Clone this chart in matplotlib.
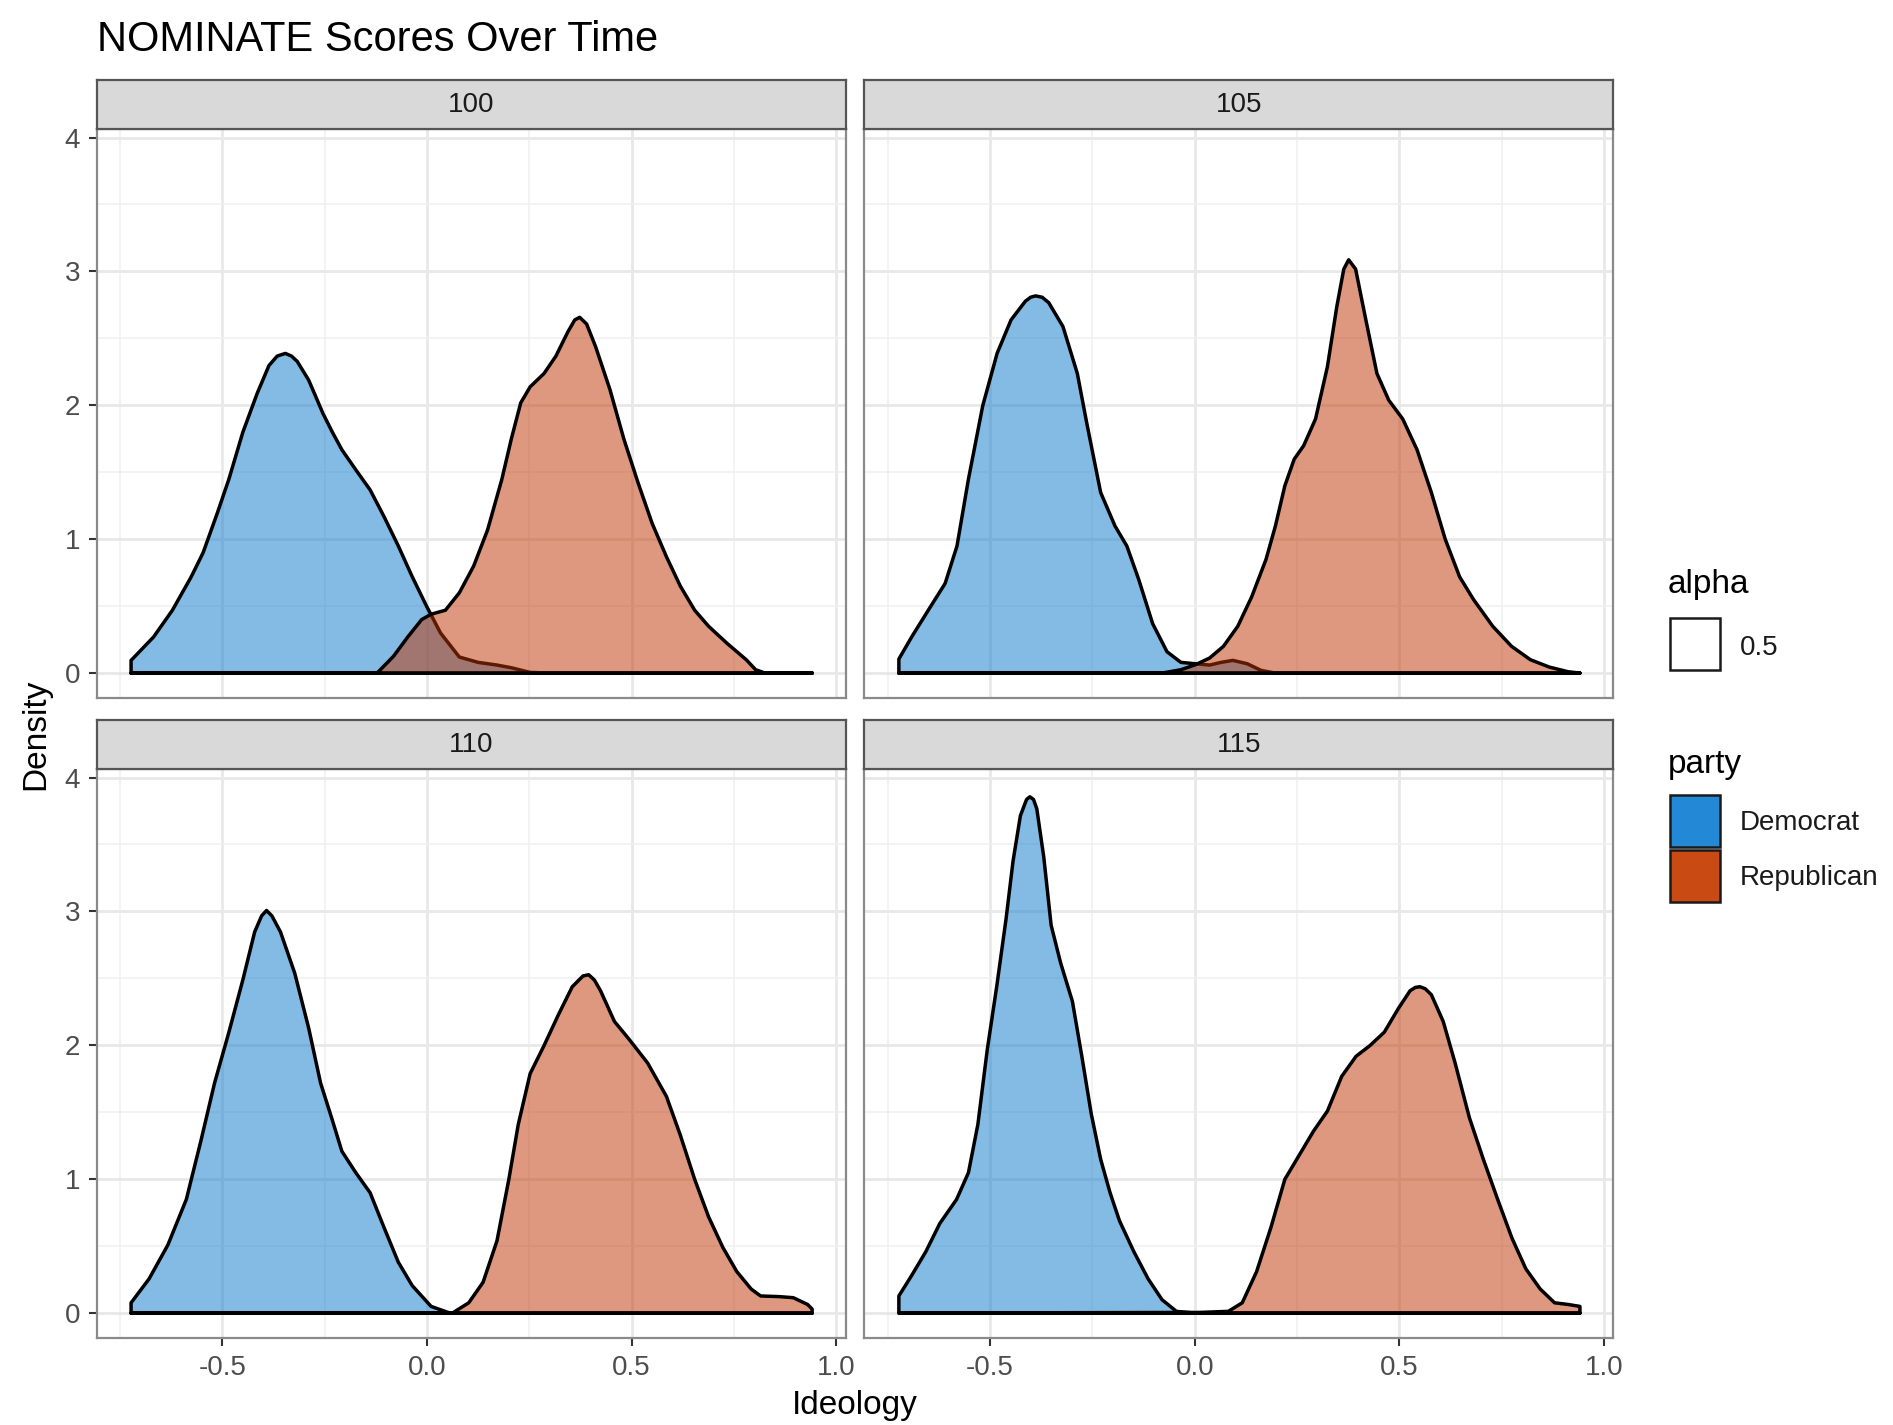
import matplotlib
matplotlib.use("Agg")
import matplotlib.pyplot as plt
from matplotlib.patches import Rectangle
from matplotlib.colors import to_rgba

plt.rcParams['font.family'] = ['Liberation Sans', 'DejaVu Sans']

# ============================
# Data
# ============================
CONGRESSES = ["100", "105", "110", "115"]
PARTIES = ["Democrat", "Republican"]
ALPHA_LABELS = ["0.5"]
X_TICKS = [-0.5, 0.0, 0.5, 1.0]
X_TICK_LABELS = ["-0.5", "0.0", "0.5", "1.0"]
Y_TICKS = [0, 1, 2, 3, 4]

# congress 100
dem_100_x = [-0.724, -0.669, -0.623, -0.577, -0.548, -0.514, -0.485, -0.451, -0.416, -0.387,
             -0.367, -0.347, -0.332, -0.318, -0.290, -0.255, -0.232, -0.209, -0.175, -0.140,
             -0.106, -0.071, -0.037, -0.002, 0.032, 0.078, 0.124, 0.170, 0.205, 0.251,
             0.300, 0.940]
dem_100_y = [0.095, 0.27, 0.47, 0.72, 0.90, 1.19, 1.45, 1.80, 2.09, 2.30,
             2.37, 2.39, 2.37, 2.33, 2.19, 1.94, 1.80, 1.67, 1.52, 1.37,
             1.17, 0.95, 0.72, 0.50, 0.30, 0.12, 0.08, 0.06, 0.04, 0.005,
             0.0, 0.0]
rep_100_x = [-0.724, -0.123, -0.083, -0.048, -0.014, 0.009, 0.044, 0.078, 0.113, 0.147,
             0.182, 0.205, 0.228, 0.251, 0.285, 0.314, 0.343, 0.360, 0.372, 0.389,
             0.411, 0.446, 0.480, 0.515, 0.549, 0.584, 0.618, 0.653, 0.687, 0.733,
             0.779, 0.802, 0.825, 0.940]
rep_100_y = [0.0, 0.0, 0.125, 0.27, 0.40, 0.44, 0.47, 0.60, 0.80, 1.07,
             1.45, 1.75, 2.02, 2.14, 2.24, 2.37, 2.55, 2.64, 2.66, 2.61,
             2.44, 2.12, 1.75, 1.42, 1.12, 0.87, 0.65, 0.47, 0.35, 0.22,
             0.10, 0.025, 0.0, 0.0]

# congress 105
dem_105_x = [-0.724, -0.692, -0.646, -0.611, -0.582, -0.554, -0.519, -0.484, -0.450, -0.415,
             -0.402, -0.390, -0.374, -0.358, -0.323, -0.288, -0.265, -0.231, -0.196, -0.167,
             -0.138, -0.104, -0.069, -0.035, 0.0, 0.035, 0.063, 0.092, 0.127, 0.161,
             0.196, 0.940]
dem_105_y = [0.105, 0.274, 0.50, 0.67, 0.95, 1.45, 2.00, 2.39, 2.64, 2.78,
             2.81, 2.82, 2.81, 2.77, 2.59, 2.24, 1.87, 1.35, 1.10, 0.95,
             0.70, 0.37, 0.16, 0.08, 0.07, 0.06, 0.08, 0.095, 0.07, 0.02,
             0.0, 0.0]
rep_105_x = [-0.724, -0.081, -0.035, 0.0, 0.035, 0.069, 0.104, 0.138, 0.173, 0.196,
             0.219, 0.242, 0.265, 0.294, 0.323, 0.346, 0.363, 0.375, 0.392, 0.415,
             0.444, 0.473, 0.507, 0.542, 0.577, 0.611, 0.646, 0.680, 0.727, 0.773,
             0.819, 0.865, 0.911, 0.940]
rep_105_y = [0.0, 0.0, 0.025, 0.062, 0.112, 0.20, 0.35, 0.57, 0.85, 1.10,
             1.40, 1.60, 1.70, 1.90, 2.29, 2.74, 3.02, 3.09, 3.02, 2.67,
             2.24, 2.04, 1.90, 1.67, 1.35, 1.00, 0.72, 0.55, 0.35, 0.20,
             0.10, 0.045, 0.01, 0.0]

# congress 110
dem_110_x = [-0.724, -0.680, -0.634, -0.589, -0.554, -0.520, -0.485, -0.451, -0.422, -0.405,
             -0.393, -0.380, -0.359, -0.324, -0.290, -0.261, -0.232, -0.209, -0.175, -0.140,
             -0.106, -0.071, -0.037, 0.009, 0.055, 0.940]
dem_110_y = [0.077, 0.256, 0.51, 0.85, 1.28, 1.72, 2.10, 2.49, 2.85, 2.97,
             3.01, 2.97, 2.85, 2.54, 2.13, 1.72, 1.44, 1.21, 1.05, 0.90,
             0.64, 0.38, 0.205, 0.05, 0.0, 0.0]
rep_110_x = [-0.724, 0.061, 0.101, 0.136, 0.170, 0.199, 0.222, 0.251, 0.285, 0.320,
             0.354, 0.380, 0.394, 0.408, 0.423, 0.457, 0.492, 0.538, 0.584, 0.618,
             0.653, 0.687, 0.722, 0.756, 0.791, 0.814, 0.860, 0.894, 0.929, 0.940]
rep_110_y = [0.0, 0.0, 0.077, 0.23, 0.54, 1.00, 1.41, 1.79, 2.00, 2.23,
             2.44, 2.52, 2.53, 2.49, 2.41, 2.18, 2.05, 1.87, 1.62, 1.33,
             1.00, 0.72, 0.49, 0.31, 0.18, 0.128, 0.123, 0.115, 0.064, 0.03]

# congress 115
dem_115_x = [-0.724, -0.693, -0.658, -0.624, -0.583, -0.554, -0.531, -0.508, -0.485, -0.462,
             -0.445, -0.427, -0.412, -0.404, -0.395, -0.387, -0.370, -0.352, -0.329, -0.300,
             -0.277, -0.254, -0.231, -0.208, -0.185, -0.150, -0.115, -0.081, -0.046, 0.0,
             0.940]
dem_115_y = [0.128, 0.28, 0.46, 0.67, 0.85, 1.05, 1.41, 1.97, 2.44, 2.95,
             3.38, 3.72, 3.84, 3.86, 3.84, 3.77, 3.41, 2.90, 2.62, 2.33,
             1.92, 1.49, 1.15, 0.90, 0.69, 0.46, 0.256, 0.10, 0.013, 0.0,
             0.0]
rep_115_x = [-0.724, 0.012, 0.081, 0.115, 0.150, 0.185, 0.219, 0.254, 0.289, 0.323,
             0.358, 0.393, 0.427, 0.462, 0.497, 0.525, 0.538, 0.549, 0.562, 0.577,
             0.606, 0.635, 0.670, 0.704, 0.739, 0.774, 0.808, 0.843, 0.878, 0.912,
             0.940]
rep_115_y = [0.0, 0.005, 0.013, 0.077, 0.31, 0.64, 1.00, 1.18, 1.36, 1.51,
             1.77, 1.92, 2.00, 2.10, 2.28, 2.41, 2.435, 2.44, 2.425, 2.38,
             2.18, 1.87, 1.46, 1.15, 0.85, 0.56, 0.33, 0.18, 0.077, 0.064,
             0.05]

CURVES = {
    "100": [(dem_100_x, dem_100_y), (rep_100_x, rep_100_y)],
    "105": [(dem_105_x, dem_105_y), (rep_105_x, rep_105_y)],
    "110": [(dem_110_x, dem_110_y), (rep_110_x, rep_110_y)],
    "115": [(dem_115_x, dem_115_y), (rep_115_x, rep_115_y)],
}

# ============================
# Style / layout (pixel positions in a 1893x1425 canvas)
# ============================
W, H = 1893, 1425
FILL_COLORS = ["#0979CB", "#BF3300"]     # drawn with alpha 0.5
KEY_COLORS = ["#2388D6", "#CA4A14"]      # legend keys
PANEL_W, PANEL_H, STRIP_H = 749, 569, 49
PANEL_LEFT = [96.6, 864.4, 96.6, 864.4]
PANEL_TOP = [129, 129, 769, 769]
XLIM = (-0.807, 1.023)
YLIM = (-0.19, 4.064)


def fx(px):
    return px / W


def fy(py):
    return 1 - py / H


fig = plt.figure(figsize=(W / 100, H / 100), dpi=100)

for i, congress in enumerate(CONGRESSES):
    left, top = PANEL_LEFT[i], PANEL_TOP[i]
    ax = fig.add_axes([fx(left), fy(top + PANEL_H), PANEL_W / W, PANEL_H / H])
    ax.set_axisbelow(True)

    for (xs, ys), color in zip(CURVES[congress], FILL_COLORS):
        ax.fill_between(xs, 0, ys, facecolor=to_rgba(color, 0.5),
                        edgecolor="black", linewidth=2.5, joinstyle="round")

    ax.set_xlim(*XLIM)
    ax.set_ylim(*YLIM)
    ax.set_xticks(X_TICKS)
    ax.set_xticks([-0.75, -0.25, 0.25, 0.75], minor=True)
    ax.set_yticks(Y_TICKS)
    ax.set_yticks([0.5, 1.5, 2.5, 3.5], minor=True)
    ax.grid(which="major", color="#E8E8E8", linewidth=2.0)
    ax.grid(which="minor", color="#F0F0F0", linewidth=1.1)
    ax.tick_params(which="minor", length=0)
    ax.tick_params(which="major", length=6, width=1.5, color="#333333",
                   labelsize=20, labelcolor="#4D4D4D", pad=6)

    if i < 2:
        ax.tick_params(axis="x", which="major", length=0, labelbottom=False)
    else:
        ax.set_xticklabels(X_TICK_LABELS)
    if i % 2 == 1:
        ax.tick_params(axis="y", which="major", length=0, labelleft=False)
    else:
        ax.set_yticklabels([str(t) for t in Y_TICKS])

    for sp in ax.spines.values():
        sp.set_color("#8A8A8A")
        sp.set_linewidth(1.6)

    # facet strip
    sax = fig.add_axes([fx(left), fy(top), PANEL_W / W, STRIP_H / H])
    sax.set_facecolor("#D9D9D9")
    sax.set_xticks([])
    sax.set_yticks([])
    for sp in sax.spines.values():
        sp.set_color("#555555")
        sp.set_linewidth(1.6)
    sax.text(0.5, 0.5, congress, ha="center", va="center", fontsize=20,
             color="#1A1A1A", transform=sax.transAxes)

# ============================
# Titles
# ============================
fig.text(fx(97), fy(51), "NOMINATE Scores Over Time", fontsize=30, va="baseline")
fig.text(fx(855), fy(1414), "Ideology", fontsize=24, ha="center", va="baseline")
fig.text(fx(36), fy(734), "Density", fontsize=24, rotation=90, ha="center", va="center")

# ============================
# Legend
# ============================
fig.text(fx(1668), fy(593), "alpha", fontsize=24, va="baseline")
fig.add_artist(Rectangle((fx(1670), fy(670)), 50 / W, 52 / H, transform=fig.transFigure,
                         facecolor="white", edgecolor="#1A1A1A", linewidth=1.8))
fig.text(fx(1740), fy(655), ALPHA_LABELS[0], fontsize=20, va="baseline", color="#1A1A1A")

fig.text(fx(1668), fy(773), "party", fontsize=24, va="baseline")
key_tops = [795, 850]
label_baselines = [830, 885]
for party, color, kt, lb in zip(PARTIES, KEY_COLORS, key_tops, label_baselines):
    fig.add_artist(Rectangle((fx(1670), fy(kt + 52)), 50 / W, 52 / H, transform=fig.transFigure,
                             facecolor=color, edgecolor="#1A1A1A", linewidth=1.8))
    fig.text(fx(1740), fy(lb), party, fontsize=20, va="baseline", color="#1A1A1A")

fig.savefig("out.png", dpi=100)
